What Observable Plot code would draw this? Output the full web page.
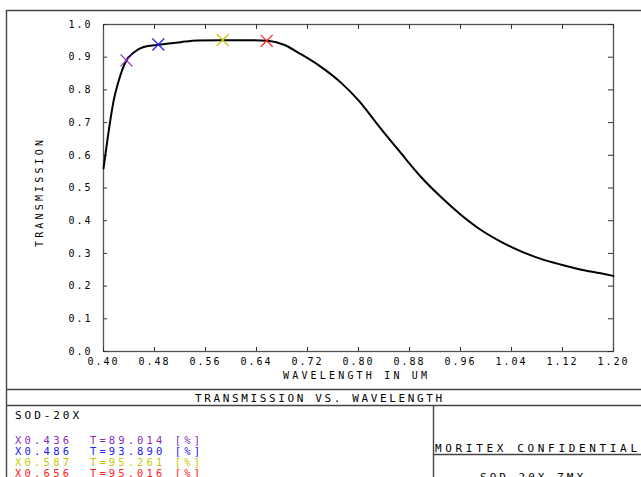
<!DOCTYPE html>
<html>
<head>
<meta charset="utf-8">
<script src="https://cdn.jsdelivr.net/npm/d3@7"></script>
<script src="https://cdn.jsdelivr.net/npm/@observablehq/plot@0.6"></script>
<style>
  html, body { margin: 0; padding: 0; background: #fff; }
  #wrap { position: relative; width: 641px; height: 477px; overflow: hidden; background: #fff; }
  #overlay { position: absolute; left: 0; top: 0; pointer-events: none; }
  #chart { position: absolute; left: 0; top: 0; }
</style>
</head>
<body>
<div id="wrap">
  <div id="chart"></div>
  <svg id="overlay" width="641" height="477"></svg>
</div>
<script>
// ---- data ----
const wavelength = [0.400, 0.406, 0.416, 0.424, 0.435, 0.448, 0.463, 0.487, 0.521, 0.547, 0.586, 0.625, 0.657, 0.683, 0.709, 0.740, 0.772, 0.800, 0.834, 0.866, 0.897, 0.929, 0.960, 0.991, 1.023, 1.054, 1.085, 1.117, 1.148, 1.180, 1.200];
const transmission = [0.560, 0.645, 0.768, 0.829, 0.887, 0.915, 0.931, 0.938, 0.946, 0.951, 0.952, 0.952, 0.950, 0.938, 0.910, 0.872, 0.823, 0.768, 0.684, 0.608, 0.536, 0.473, 0.419, 0.373, 0.336, 0.307, 0.284, 0.266, 0.251, 0.239, 0.231];

const markerWavelength = [0.436, 0.486, 0.587, 0.656];
const markerTransmission = [0.89014, 0.93890, 0.95261, 0.95016];
const markerColors = ["#8a2bc0", "#2020ff", "#c8c800", "#ff2020"];

const xTicks = [0.40, 0.48, 0.56, 0.64, 0.72, 0.80, 0.88, 0.96, 1.04, 1.12, 1.20];
const yTicks = [0.0, 0.1, 0.2, 0.3, 0.4, 0.5, 0.6, 0.7, 0.8, 0.9, 1.0];

const xLabel = "WAVELENGTH IN UM";
const yLabel = "TRANSMISSION";
const title = "TRANSMISSION VS. WAVELENGTH";
const lensName = "SOD-20X";
const company = "MORITEX CONFIDENTIAL";
const fileName = "SOD-20X.ZMX";

// ---- build tables ----
const curve = wavelength.map((w, i) => ({w, t: transmission[i]}));
const markers = markerWavelength.map((w, i) => ({w, t: markerTransmission[i], color: markerColors[i]}));

const W = 641, H = 389;
const mT = 24, mB = 38, mL = 103, mR = 28;
const innerH = H - mT - mB, innerW = W - mL - mR;

const plot = Plot.plot({
  width: W, height: H,
  marginTop: mT, marginBottom: mB, marginLeft: mL, marginRight: mR,
  style: {fontFamily: "'DejaVu Sans Mono', monospace", fontSize: "10px", letterSpacing: "2px", background: "transparent", color: "#000"},
  x: {domain: [0.4, 1.2]},
  y: {domain: [0, 1]},
  color: {type: "identity"},
  marks: [
    Plot.frame({stroke: "#555", strokeWidth: 1.3}),
    Plot.tickX(xTicks, {x: d => d, insetTop: innerH - 4, stroke: "#333"}),
    Plot.tickX(xTicks, {x: d => d, insetBottom: innerH - 5, stroke: "#333"}),
    Plot.tickY(yTicks, {y: d => d, insetRight: innerW - 4, stroke: "#333"}),
    Plot.tickY(yTicks, {y: d => d, insetLeft: innerW - 5, stroke: "#333"}),
    Plot.axisX({ticks: xTicks, tickSize: 0, tickPadding: 6, label: null, tickFormat: d3.format(".2f")}),
    Plot.axisY({ticks: yTicks, tickSize: 0, tickPadding: 11, label: null, tickFormat: d3.format(".1f")}),
    Plot.line(curve, {x: "w", y: "t", curve: "monotone-x", stroke: "black", strokeWidth: 2}),
    Plot.dot(markers, {x: "w", y: "t", symbol: "times", r: 5.5, stroke: "color", strokeWidth: 1.2})
  ]
});
document.getElementById("chart").appendChild(plot);

// ---- title block / frame ----
const ov = d3.select("#overlay");
const lineColor = "#444";
const lines = [
  [6.5, 10, 6.5, 477],
  [6, 10.5, 641, 10.5],
  [6, 389.5, 641, 389.5],
  [6, 405.5, 641, 405.5],
  [433.5, 405, 433.5, 477],
  [433, 454.5, 641, 454.5]
];
ov.selectAll("line").data(lines).join("line")
  .attr("x1", d => d[0]).attr("y1", d => d[1]).attr("x2", d => d[2]).attr("y2", d => d[3])
  .attr("stroke", lineColor).attr("stroke-width", 1.4);

function txt(s, x, y, len, opts = {}) {
  const t = ov.append("text")
    .attr("x", x).attr("y", y)
    .attr("font-family", "'DejaVu Sans Mono', monospace")
    .attr("font-size", opts.size || 11)
    .attr("fill", opts.fill || "#000")
    .attr("textLength", len).attr("lengthAdjust", "spacing")
    .text(s);
  if (opts.transform) t.attr("transform", opts.transform);
  return t;
}

// axis labels
txt(xLabel, 283, 378.5, 144, {size: 10});
txt(yLabel, 0, 0, 107, {size: 10, transform: "translate(42.5,247) rotate(-90)"});

// title block
txt(title, 195, 402, 247);
txt(lensName, 15, 419, 64);
markers.forEach((m, i) => {
  const y = 444 + i * 11;
  txt("X" + m.w.toFixed(3), 15, y, 54, {fill: m.color, size: 10.5});
  txt("T=" + (m.t * 100).toFixed(3) + " [%]", 90, y, 110, {fill: m.color, size: 10.5});
});
txt(company, 435, 452, 202);
txt(fileName, 480, 481, 103);
</script>
</body>
</html>
